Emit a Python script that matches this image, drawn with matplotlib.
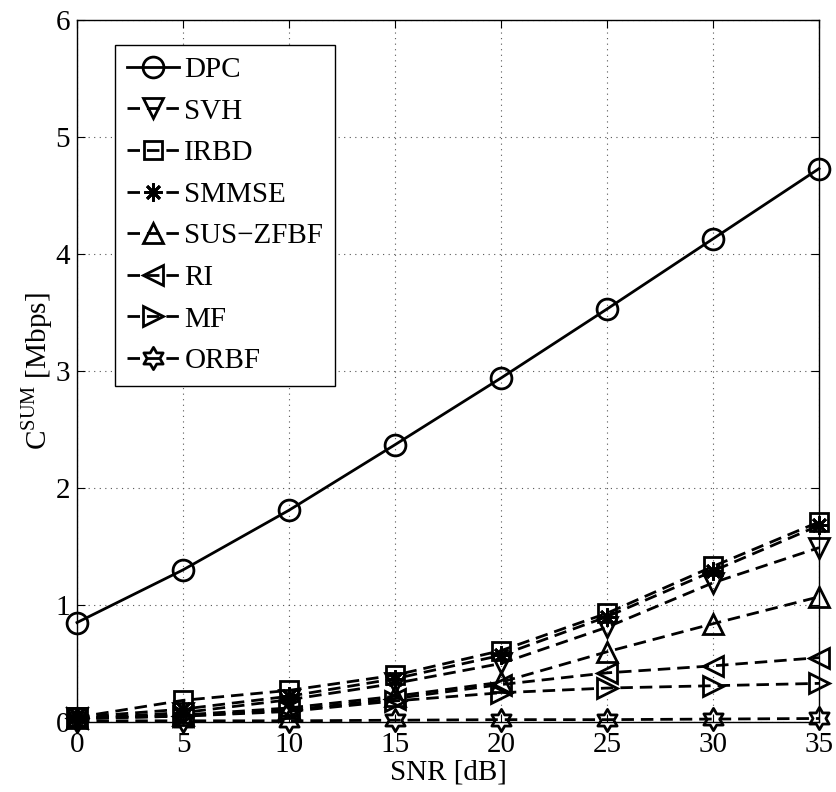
import numpy as np
import matplotlib
matplotlib.use("Agg")
import matplotlib.pyplot as plt
from matplotlib.path import Path

snr = [0, 5, 10, 15, 20, 25, 30, 35]
dpc = [0.85, 1.30, 1.81, 2.37, 2.94, 3.53, 4.13, 4.73]
svh = [0.03, 0.08, 0.19, 0.33, 0.50, 0.81, 1.19, 1.49]
irbd = [0.04, 0.185, 0.27, 0.40, 0.61, 0.93, 1.33, 1.71]
smmse = [0.04, 0.11, 0.22, 0.37, 0.57, 0.90, 1.29, 1.68]
sus_zfbf = [0.03, 0.06, 0.12, 0.22, 0.34, 0.60, 0.84, 1.07]
ri = [0.03, 0.05, 0.10, 0.20, 0.32, 0.42, 0.48, 0.55]
mf = [0.03, 0.05, 0.09, 0.18, 0.25, 0.29, 0.31, 0.33]
orbf = [0.01, 0.01, 0.01, 0.015, 0.02, 0.02, 0.025, 0.03]
labels = ["DPC", "SVH", "IRBD", "SMMSE", "SUS\u2212ZFBF", "RI", "MF", "ORBF"]

plt.rcParams['font.family'] = ['Liberation Serif', 'DejaVu Serif']
plt.rcParams['mathtext.fontset'] = 'custom'
plt.rcParams['mathtext.rm'] = 'Liberation Serif'

# hexagram marker
ang = np.pi / 2 + np.arange(12) * np.pi / 6
rad = np.where(np.arange(12) % 2 == 0, 1.0, 1.0 / np.sqrt(3))
hv = np.column_stack([rad * np.cos(ang), rad * np.sin(ang)])
hv = np.vstack([hv, hv[:1]])
hexagram = Path(hv, closed=True)

fig = plt.figure(figsize=(8.36, 7.92), dpi=100)
ax = fig.add_axes([0.0921, 0.0884, 0.8876, 0.8863])

dash = (4.5, 2.5)
common = dict(color='black', lw=2, mfc='none', mec='black', mew=2, clip_on=False)
ax.plot(snr, dpc, '-', marker='o', ms=15, label=labels[0], **common)
series = [(svh, 'v', 15), (irbd, 's', 13), (smmse, (8, 2, 0), 13),
          (sus_zfbf, '^', 15), (ri, '<', 15), (mf, '>', 15), (orbf, hexagram, 16)]
for (vals, mk, ms), lab in zip(series, labels[1:]):
    ln, = ax.plot(snr, vals, '--', marker=mk, ms=ms, label=lab, **common)
    ln.set_dashes(dash)

ax.set_xlim(0, 35)
ax.set_ylim(0, 6)
ax.set_xticks(snr)
ax.set_yticks(range(7))
ax.tick_params(direction='in', top=True, right=True, labelsize=21, length=6)
ax.tick_params(axis='x', pad=7)
ax.tick_params(axis='y', pad=5)
ax.grid(True, linestyle=(0, (1, 4)), color='#555555', lw=0.8)
for s in ax.spines.values():
    s.set_linewidth(1.0)
ax.set_xlabel('SNR [dB]', fontsize=21, labelpad=1)
ax.set_ylabel(r'C$^{\mathrm{SUM}}$ [Mbps]', fontsize=21, labelpad=0)

leg = ax.legend(loc='upper left', bbox_to_anchor=(0.0512, 0.9644), borderaxespad=0,
                fontsize=21, fancybox=False, framealpha=1, edgecolor='black',
                handlelength=1.78, handletextpad=0.2, labelspacing=0.52,
                borderpad=0.4)
leg.get_frame().set_linewidth(1.0)

fig.savefig('out.png', dpi=100)
